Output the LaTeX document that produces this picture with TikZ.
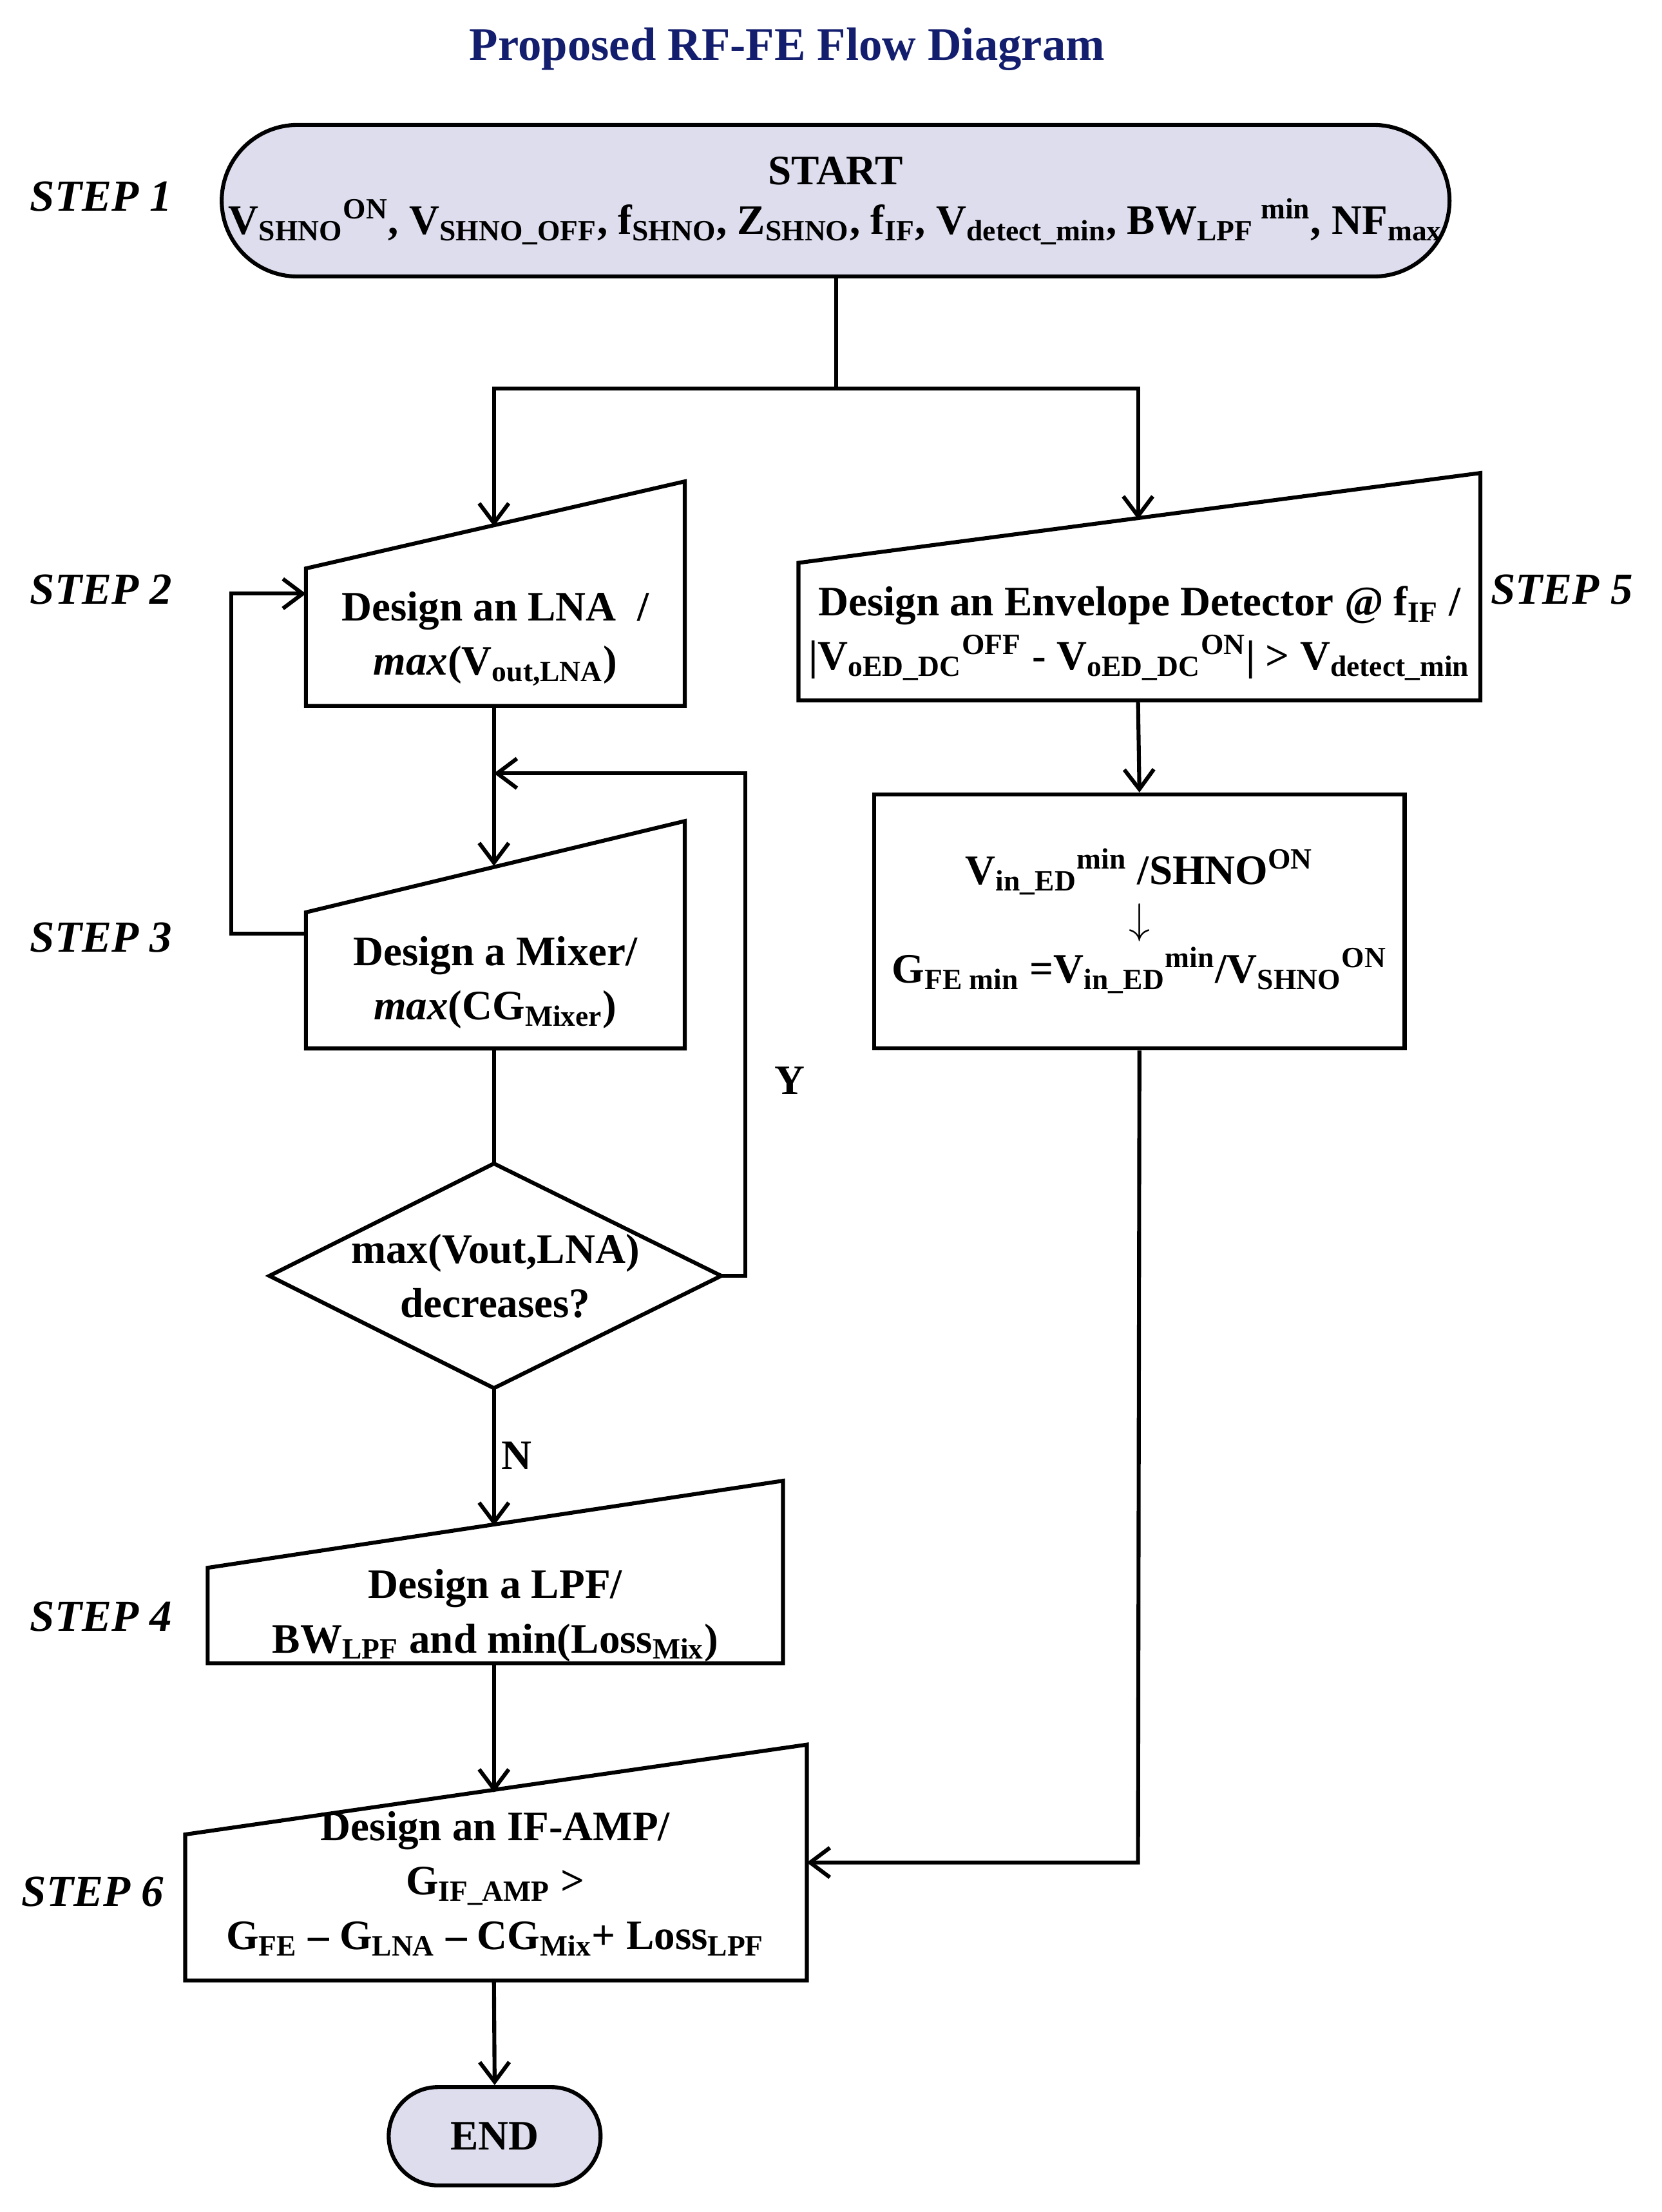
\documentclass[tikz,border=0pt]{standalone}
\usepackage{fontspec}
\setmainfont{Liberation Serif}
\usetikzlibrary{arrows.meta}
\newcommand{\sub}[1]{\textsubscript{#1}}
\newcommand{\sps}[1]{\textsuperscript{#1}}
\definecolor{term}{RGB}{221,221,238}
\definecolor{ttl}{RGB}{20,30,110}
\begin{document}
\begin{tikzpicture}[x=0.02cm,y=-0.02cm,line width=1.6pt,
  txt/.style={font=\fontsize{17}{22}\selectfont\bfseries,align=center},
  steplab/.style={font=\fontsize{18}{22}\selectfont\bfseries\itshape},
  arr/.style={-{Straight Barb[length=8pt,width=12pt]}},
  lab/.style={font=\fontsize{17}{22}\selectfont\bfseries}]
\useasboundingbox (0,0) rectangle (1184,1576);
\node[font=\fontsize{19}{22}\selectfont\bfseries,text=ttl] (title) at (561,35) {Proposed RF-FE Flow Diagram};
% start
\node[draw,fill=term,rounded corners=54*0.02cm,minimum width=875*0.02cm,minimum height=108*0.02cm,txt] (start) at (595.5,143) {};
\node[txt] (starttxt) at (595.5,143) {START\\[-2pt] V\sub{SHNO}\sps{ON}, V\sub{SHNO\_OFF}, f\sub{SHNO}, Z\sub{SHNO}, f\sub{IF}, V\sub{detect\_min}, BW\sub{LPF}\,\sps{min}, NF\sub{max}};
% LNA
\draw (218,405) -- (488,343) -- (488,503) -- (218,503) -- cycle;
\coordinate (lnaT) at (352,375); \coordinate (lnaB) at (352,503); \coordinate (lnaL) at (218,423);
\node[txt] (lna) at (353,455) {Design an LNA\ \ /\\ \textit{max}(V\sub{out,LNA})};
% Mixer
\draw (218,650) -- (488,585) -- (488,747) -- (218,747) -- cycle;
\coordinate (mixT) at (352,617); \coordinate (mixB) at (352,747); \coordinate (mixL) at (218,665);
\node[txt] (mix) at (353,700) {Design a Mixer/\\ \textit{max}(CG\sub{Mixer})};
% diamond
\draw (352,829) -- (514,909) -- (352,989) -- (192,909) -- cycle;
\coordinate (diaT) at (352,829); \coordinate (diaB) at (352,989); \coordinate (diaR) at (514,909);
\node[txt] (dia) at (353,909) {max(Vout,LNA)\\decreases?};
% LPF
\draw (148,1117) -- (558,1055) -- (558,1185) -- (148,1185) -- cycle;
\coordinate (lpfT) at (352,1087); \coordinate (lpfB) at (352,1185);
\node[txt] (lpf) at (353,1151) {Design a LPF/\\BW\sub{LPF} and min(Loss\sub{Mix})};
% IF AMP
\draw (132,1307) -- (575,1243) -- (575,1411) -- (132,1411) -- cycle;
\coordinate (ifT) at (352,1277); \coordinate (ifB) at (352,1411); \coordinate (ifR) at (575,1327);
\node[txt] (ifa) at (353,1342) {Design an IF-AMP/\\G\sub{IF\_AMP} >\\G\sub{FE} -- G\sub{LNA} -- CG\sub{Mix}+ Loss\sub{LPF}};
% END
\node[draw,fill=term,rounded corners=35*0.02cm,minimum width=151*0.02cm,minimum height=70*0.02cm,txt] (end) at (352.5,1522) {END};
% ED
\draw (569,401) -- (1055,337) -- (1055,499) -- (569,499) -- cycle;
\coordinate (edT) at (811,370); \coordinate (edB) at (811,499);
\node[txt] (ed) at (812,451) {Design an Envelope Detector @ f\sub{IF} /\\|V\sub{oED\_DC}\sps{OFF} - V\sub{oED\_DC}\sps{ON}| > V\sub{detect\_min}};
% Vin box
\node[draw,minimum width=378*0.02cm,minimum height=181*0.02cm] (vin) at (812,656.5) {};
\node[txt] (vintxt) at (812,656) {V\sub{in\_ED}\sps{min} /SHNO\sps{ON}\\[-2pt] $\downarrow$\\[-2pt] G\sub{FE min} =V\sub{in\_ED}\sps{min}/V\sub{SHNO}\sps{ON}};
% connectors
\coordinate (split) at (596,277);
\draw (start.south -| split) -- (split);
\draw[arr] (split) -- (352,277) -- (lnaT);
\draw[arr] (split) -- (811,277) -- (edT);
\draw[arr] (lnaB) -- (mixT);
\draw[arr] (mixL) -- (165,665) -- (165,423) -- (lnaL);
\draw (mixB) -- (diaT);
\draw[arr] (diaR) -- (531,909) -- (531,551) -- (352,551);
\draw[arr] (diaB) -- (lpfT);
\draw[arr] (lpfB) -- (ifT);
\draw[arr] (ifB) -- (end.north);
\draw[arr] (edB) -- (vin.north);
\draw[arr] (vin.south) -- (811,1327) -- (ifR);
\node[lab] (y) at (563,770) {Y};
\node[lab] (n) at (368,1037) {N};
% steps
\node[steplab] (s1) at (72,140) {STEP 1};
\node[steplab] (s2) at (72,420) {STEP 2};
\node[steplab] (s3) at (72,668) {STEP 3};
\node[steplab] (s4) at (72,1152) {STEP 4};
\node[steplab] (s6) at (66,1348) {STEP 6};
\node[steplab] (s5) at (1113,420) {STEP 5};
\end{tikzpicture}
\end{document}
